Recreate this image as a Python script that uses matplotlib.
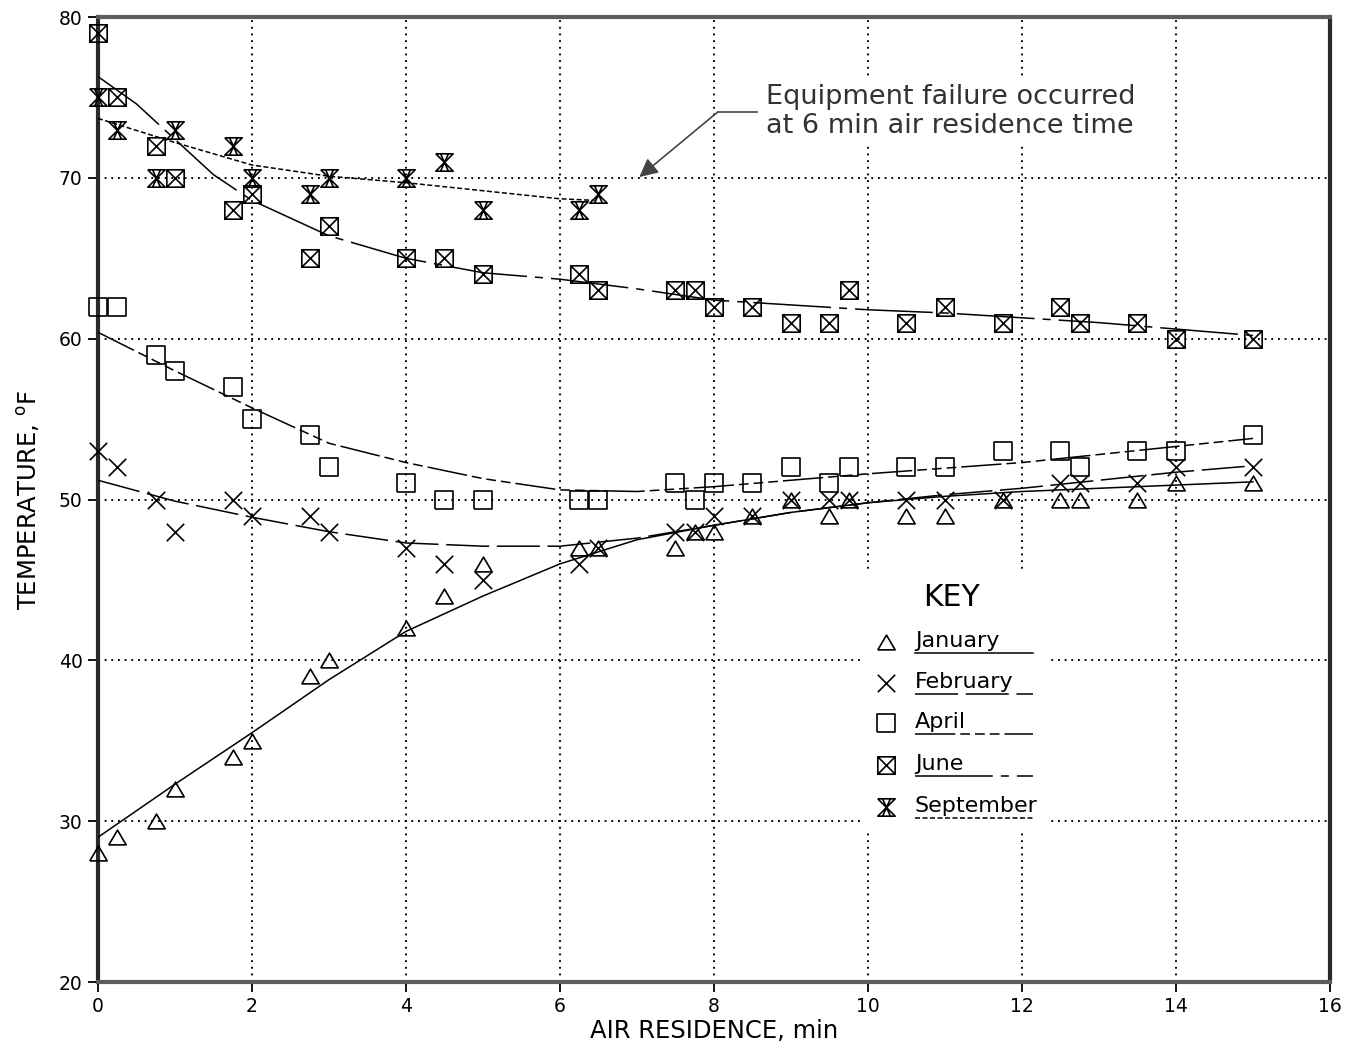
import numpy as np
import matplotlib
matplotlib.use('Agg')
import matplotlib.pyplot as plt
from matplotlib.path import Path
from matplotlib.patches import Rectangle

plt.rcParams['font.family'] = ['DejaVu Sans']
plt.rcParams['lines.scale_dashes'] = False

# measurement times (min)
x = [0, 0.25, 0.75, 1.0, 1.75, 2.0, 2.75, 3.0, 4.0, 4.5, 5.0, 6.25, 6.5, 7.5,
     7.75, 8.0, 8.5, 9.0, 9.5, 9.75, 10.5, 11.0, 11.75, 12.5, 12.75, 13.5, 14.0, 15.0]

jan = [28, 29, 30, 32, 34, 35, 39, 40, 42, 44, 46, 47, 47, 47,
       48, 48, 49, 50, 49, 50, 49, 49, 50, 50, 50, 50, 51, 51]
feb = [53, 52, 50, 48, 50, 49, 49, 48, 47, 46, 45, 46, 47, 48,
       48, 49, 49, 50, 50, 50, 50, 50, 50, 51, 51, 51, 52, 52]
apr = [62, 62, 59, 58, 57, 55, 54, 52, 51, 50, 50, 50, 50, 51,
       50, 51, 51, 52, 51, 52, 52, 52, 53, 53, 52, 53, 53, 54]
jun = [79, 75, 72, 70, 68, 69, 65, 67, 65, 65, 64, 64, 63, 63,
       63, 62, 62, 61, 61, 63, 61, 62, 61, 62, 61, 61, 60, 60]
# september stops at 6.5 min (equipment failure)
x_sep = [0, 0.25, 0.75, 1.0, 1.75, 2.0, 2.75, 3.0, 4.0, 4.5, 5.0, 6.25, 6.5]
sep = [75, 73, 70, 73, 72, 70, 69, 70, 70, 71, 68, 68, 69]

# fitted curves as drawn on the original
cx = [0, 1, 2, 3, 4, 5, 6, 7, 8, 9, 10, 11, 12, 13, 14, 15]
jan_fit = [29.0, 32.3, 35.5, 38.8, 41.8, 44.0, 46.0, 47.5, 48.4, 49.2, 49.8, 50.2, 50.5, 50.7, 50.9, 51.1]
feb_fit = [51.2, 49.9, 48.9, 48.0, 47.3, 47.1, 47.1, 47.6, 48.4, 49.2, 49.8, 50.3, 50.7, 51.2, 51.7, 52.1]
apr_fit = [60.4, 58.0, 55.7, 53.5, 52.3, 51.3, 50.6, 50.5, 50.8, 51.2, 51.6, 51.95, 52.3, 52.8, 53.3, 53.8]
jx = [0, 0.5, 1, 1.5, 2, 3, 4, 5, 6, 7, 8, 9, 10, 11, 12, 13, 14, 15]
jun_fit = [76.3, 74.6, 72.4, 70.2, 68.6, 66.4, 65.0, 64.1, 63.7, 63.1, 62.4, 62.1, 61.8, 61.6, 61.3, 61.0, 60.6, 60.2]
sx = [0, 1, 2, 3, 4, 5, 6, 6.45]
sep_fit = [73.7, 72.2, 70.8, 70.1, 69.7, 69.2, 68.7, 68.6]

M, L = Path.MOVETO, Path.LINETO
tri = Path([(-1, -0.85), (1, -0.85), (0, 0.85), (-1, -0.85)], [M, L, L, L])
sq = Path([(-1, -1), (1, -1), (1, 1), (-1, 1), (-1, -1)], [M, L, L, L, L])
xm = Path([(-1, -1), (1, 1), (-1, 1), (1, -1)], [M, L, M, L])
boxx = Path([(-1, -1), (1, -1), (1, 1), (-1, 1), (-1, -1), (1, 1), (-1, 1), (1, -1)],
            [M, L, L, L, L, L, M, L])
hour = Path([(-1, 1), (1, 1), (-1, -1), (1, -1), (-1, 1),
             (-0.45, 1), (0.45, -1), (0.45, 1), (-0.45, -1)],
            [M, L, L, L, L, M, L, M, L])

styles = {
    'January': (tri, '-'),
    'February': (xm, (0, (31, 5.5))),
    'April': (sq, (0, (29, 3.6, 7, 3.6, 7, 3.6, 7, 3.6))),
    'June': (boxx, (0, (56, 5.8, 5.8, 5.8))),
    'September': (hour, (0, (3.6, 1.8))),
}

fig = plt.figure(figsize=(13.49, 10.52), dpi=100)
ax = fig.add_axes([0.0726, 0.0665, 0.9133, 0.9173])

ms = 12.5
mkw = dict(linestyle='none', markersize=ms, markerfacecolor='none',
           markeredgecolor='black', markeredgewidth=1.2, zorder=4, clip_on=False)
lkw = dict(color='black', linewidth=1.1, zorder=3)

ax.plot(cx, jan_fit, linestyle=styles['January'][1], **lkw)
ax.plot(cx, feb_fit, linestyle=styles['February'][1], **lkw)
ax.plot(cx, apr_fit, linestyle=styles['April'][1], **lkw)
ax.plot(jx, jun_fit, linestyle=styles['June'][1], **lkw)
ax.plot(sx, sep_fit, linestyle=styles['September'][1], **lkw)

ax.plot(x, jan, marker=tri, **mkw)
ax.plot(x, feb, marker=xm, **mkw)
ax.plot(x, apr, marker=sq, **mkw)
ax.plot(x, jun, marker=boxx, **mkw)
ax.plot(x_sep, sep, marker=hour, **mkw)

ax.set_xlim(0, 16)
ax.set_ylim(20, 80)
ax.set_xticks(np.arange(0, 17, 2))
ax.set_yticks(np.arange(20, 81, 10))
ax.grid(True, color='black', linestyle=(0, (1.3, 3.5)), linewidth=1.4)
ax.set_axisbelow(True)
ax.tick_params(direction='out', length=7, width=1.3, labelsize=13.5, pad=4)

for side in ['top', 'bottom']:
    ax.spines[side].set_color('#5c5c5c')
    ax.spines[side].set_linewidth(3)
for side in ['left', 'right']:
    ax.spines[side].set_color('#2a2a2a')
    ax.spines[side].set_linewidth(3)

ax.set_xlabel('AIR RESIDENCE, min', fontsize=17.5, labelpad=2)
ax.set_ylabel('TEMPERATURE, $^{\\rm o}$F', fontsize=17.5, labelpad=12)

# annotation
ax.plot([8.56, 8.05], [74.1, 74.1], color='#444444', linewidth=1.2, zorder=3)
ax.annotate('', xy=(7.03, 70.05), xytext=(8.05, 74.1),
            arrowprops=dict(arrowstyle='-|>', color='#444444', lw=1.2,
                            mutation_scale=28, shrinkA=0, shrinkB=0), zorder=3)
ax.text(8.68, 74.1, 'Equipment failure occurred\nat 6 min air residence time',
        ha='left', va='center', fontsize=19.5, linespacing=1.15, color='#333333',
        bbox=dict(facecolor='white', edgecolor='none', pad=4), zorder=3)

# key
ax.add_patch(Rectangle((9.95, 29.3), 2.4, 16.2, facecolor='white',
                       edgecolor='none', zorder=2))
ax.text(11.09, 43.9, 'KEY', ha='center', va='center', fontsize=21.5, zorder=5)
rows_y = [41.13, 38.58, 36.09, 33.48, 30.87]
for (name, (mk, ls)), yy in zip(styles.items(), rows_y):
    ax.plot([10.24], [yy], marker=mk, **mkw)
    ax.text(10.61, yy + 0.05, name, ha='left', va='center', fontsize=16, zorder=5)
    ax.plot([10.61, 12.14], [yy - 0.65, yy - 0.65], linestyle=ls, color='black',
            linewidth=1.1, zorder=5)

fig.savefig('out.png', dpi=100)
